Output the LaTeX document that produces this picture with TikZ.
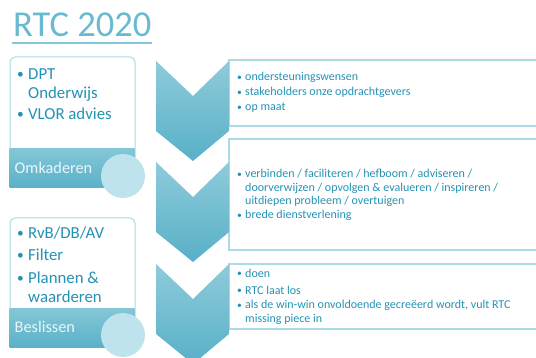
\documentclass[tikz,border=0pt]{standalone}
\usepackage{fontspec}
\setmainfont{Carlito}
\definecolor{txtc}{RGB}{36,146,180}
\definecolor{titlec}{RGB}{104,186,208}
\definecolor{titleline}{RGB}{128,200,218}
\definecolor{bordc}{RGB}{170,219,231}
\definecolor{chevtop}{RGB}{142,203,218}
\definecolor{chevbot}{RGB}{88,176,199}
\definecolor{bandtop}{RGB}{132,199,215}
\definecolor{bandbot}{RGB}{90,177,200}
\definecolor{bandtxt}{RGB}{232,246,250}
\definecolor{circc}{RGB}{190,227,236}
\newcommand{\rb}{\makebox[8pt][l]{\raisebox{0.3pt}{\scalebox{0.8}{\textbullet}}}}
\newcommand{\rs}{\makebox[8pt][l]{}}
\newcommand{\lb}{\makebox[11pt][l]{\raisebox{0.5pt}{\scalebox{0.8}{\textbullet}}}}
\newcommand{\ls}{\makebox[11pt][l]{}}
\begin{document}
\begin{tikzpicture}[x=1pt,y=-1pt,
  chev/.style={top color=chevtop,bottom color=chevbot,draw=none},
  tbox/.style={draw=bordc,line width=1.2pt},
  rtext/.style={anchor=north west,inner sep=0pt,align=left,text=txtc},
  ltext/.style={anchor=north west,inner sep=0pt,align=left,text=txtc,font=\fontsize{16.8}{19}\selectfont},
  panel/.style={draw=bordc,fill=white,line width=1pt,rounded corners=5pt,minimum width=125pt,inner sep=0pt},
  band/.style={top color=bandtop,bottom color=bandbot,draw=none,minimum width=125pt,minimum height=39pt,inner sep=0pt,anchor=south west},
  bandlabel/.style={anchor=west,inner sep=0pt,text=bandtxt,font=\fontsize{16.3}{19}\selectfont},
  dot/.style={circle,fill=circc,draw=none,minimum size=44pt,inner sep=0pt}]
\useasboundingbox (0,0) rectangle (536,358);

% title
\node[anchor=base west,inner sep=0pt,text=titlec,font=\fontsize{36.5}{40}\selectfont] (title) at (13,37) {RTC 2020};
\draw[draw=titleline,line width=2pt] (12,43) -- (152,43);

% left panel A
\node[panel,minimum height=130pt] (panelA) at (72.5,122) {};
\node[band] (bandA) at (panelA.south west) {};
\node[dot] (dotA) at (123,176) {};
\node[bandlabel] (labA) at (14.5,167.5) {Omkaderen};
\node[ltext] (txtA) at (17,65.7) {\strut\lb DPT\\ \ls Onderwijs\\[2pt] \lb VLOR advies};

% left panel B
\node[panel,minimum height=129pt] (panelB) at (72.5,282.5) {};
\node[band] (bandB) at (panelB.south west) {};
\node[dot] (dotB) at (123,335) {};
\node[bandlabel] (labB) at (14.5,327) {Beslissen};
\node[ltext] (txtB) at (17,224.7) {\strut\lb RvB/DB/AV\\[3pt] \lb Filter\\[4pt] \lb Plannen \&\\ \ls waarderen};

% right boxes
\draw[tbox] (545,60) -- (229,60) -- (229,126) -- (545,126);
\draw[tbox] (545,139) -- (229,139) -- (229,250) -- (545,250);
\draw[tbox] (545,264) -- (229,264) -- (229,329) -- (545,329);

% chevrons
\path[chev] (156,61) -- (193,96) -- (229,61) -- (229,131) -- (193,161) -- (156,131) -- cycle;
\path[chev] (156,162) -- (193,197) -- (229,162) -- (229,232) -- (193,262) -- (156,232) -- cycle;
\path[chev] (156,264) -- (193,299) -- (229,264) -- (229,334) -- (193,364) -- (156,334) -- cycle;

% right texts
\node[rtext,font=\fontsize{12}{15}\selectfont] (t1) at (237,70) {\strut\rb ondersteuningswensen\\ \rb stakeholders onze opdrachtgevers\\ \rb op maat};
\node[rtext,font=\fontsize{12}{13.5}\selectfont] (t2) at (237,168) {\strut\rb verbinden / faciliteren / hefboom / adviseren /\\ \rs doorverwijzen / opvolgen \& evalueren / inspireren /\\ \rs uitdiepen probleem / overtuigen\\[0.5pt] \rb brede dienstverlening};
\node[rtext,font=\fontsize{12}{14}\selectfont] (t3) at (237,267.2) {\strut\rb doen\\[3pt] \rb RTC laat los\\[0.5pt] \rb als de win-win onvoldoende gecreëerd wordt, vult RTC\\ \rs missing piece in};
\end{tikzpicture}
\end{document}
